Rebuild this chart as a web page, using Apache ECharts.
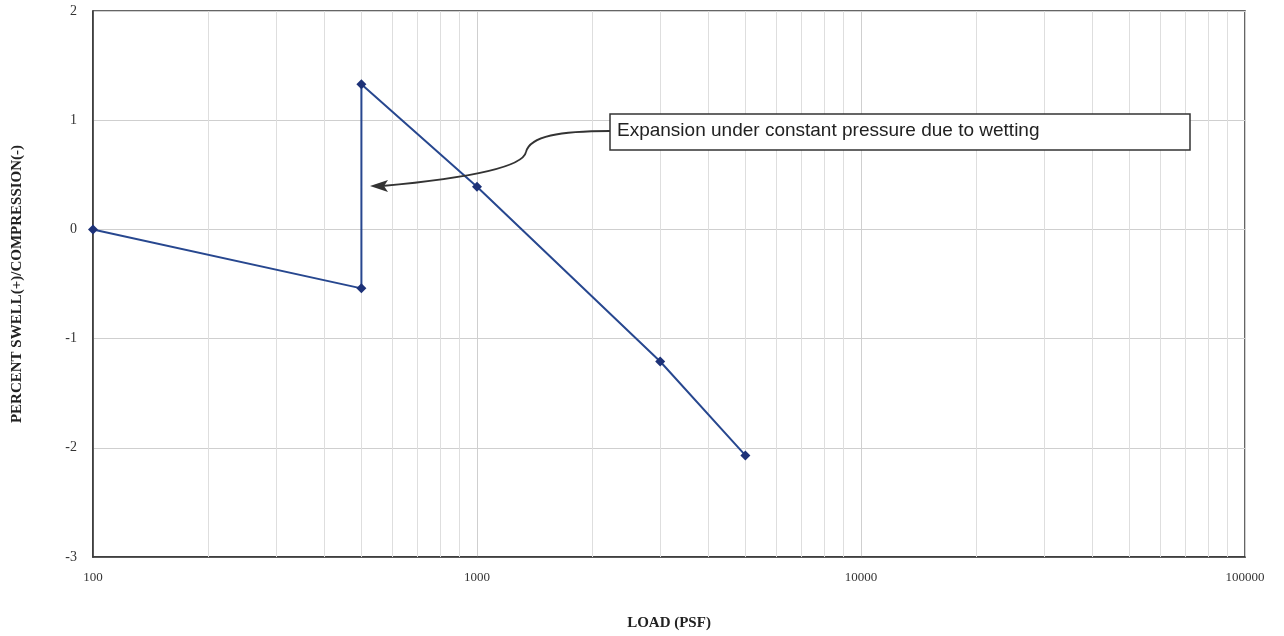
<!DOCTYPE html>
<html>
<head>
    <meta charset="utf-8">
    <title>Swell / Compression</title>
    <script src="https://cdn.jsdelivr.net/npm/echarts@6/dist/echarts.min.js"></script>
    <style>
        html, body { margin: 0; padding: 0; background: #fff; }
        #main { width: 1284px; height: 636px; }
    </style>
</head>
<body>
<div id="main"></div>
<script type="text/javascript">
    // load (psf) vs percent swell(+)/compression(-)
    var loads = [100, 500, 500, 1000, 3000, 5000];
    var swell = [0, -0.54, 1.33, 0.39, -1.21, -2.07];
    // intermediate log grid lines
    var minorLoads = [200, 300, 400, 500, 600, 700, 800, 900,
        2000, 3000, 4000, 5000, 6000, 7000, 8000, 9000,
        20000, 30000, 40000, 50000, 60000, 70000, 80000, 90000];
    var yTicks = [-3, -2, -1, 0, 1, 2];
    var noteText = 'Expansion under constant pressure due to wetting';

    var serif = '"Liberation Serif", "DejaVu Serif", serif';
    var chart = echarts.init(document.getElementById('main'));

    var option = {
        animation: false,
        backgroundColor: '#fff',
        grid: {
            left: 93, right: 39, top: 11, bottom: 79,
            outerBoundsMode: 'none',
            containLabel: false,
            show: true, borderColor: '#333', borderWidth: 1.5
        },
        xAxis: {
            type: 'log',
            logBase: 10,
            min: 100,
            max: 100000,
            name: 'LOAD (PSF)',
            nameLocation: 'middle',
            nameGap: 59,
            nameTextStyle: { fontFamily: serif, fontWeight: 'bold', fontSize: 15, color: '#222' },
            axisLine: { onZero: false, lineStyle: { color: '#333', width: 1.5 } },
            axisTick: { show: false },
            axisLabel: {
                fontFamily: serif, fontSize: 13, color: '#333', margin: 14,
                formatter: function (v) { return String(Math.round(v)); }
            },
            splitLine: { show: true, lineStyle: { color: '#cfcfcf', width: 1 } }
        },
        yAxis: {
            type: 'value',
            min: yTicks[0],
            max: yTicks[yTicks.length - 1],
            interval: 1,
            name: 'PERCENT SWELL(+)/COMPRESSION(-)',
            nameLocation: 'middle',
            nameGap: 68,
            nameTextStyle: { fontFamily: serif, fontWeight: 'bold', fontSize: 15, color: '#222' },
            axisLine: { show: true, onZero: false, lineStyle: { color: '#333', width: 1.5 } },
            axisTick: { show: false },
            axisLabel: { fontFamily: serif, fontSize: 14, color: '#333', margin: 16 },
            splitLine: { show: true, lineStyle: { color: '#cfcfcf', width: 1 } }
        },
        series: [{
            type: 'line',
            data: loads.map(function (x, i) { return [x, swell[i]]; }),
            symbol: 'diamond',
            symbolSize: 10,
            lineStyle: { color: '#27478f', width: 2 },
            itemStyle: { color: '#1d3278' },
            z: 5,
            markLine: {
                silent: true,
                symbol: 'none',
                label: { show: false },
                lineStyle: { color: '#dedede', width: 1, type: 'solid' },
                data: minorLoads.map(function (v) { return { xAxis: v }; }),
                z: 1
            }
        }],
        graphic: [
            {
                type: 'bezierCurve',
                shape: { x1: 610, y1: 131, cpx1: 560, cpy1: 131, cpx2: 530, cpy2: 136, x2: 526, y2: 152 },
                style: { fill: null, stroke: '#333', lineWidth: 1.8 },
                z: 10
            },
            {
                type: 'bezierCurve',
                shape: { x1: 526, y1: 152, cpx1: 523, cpy1: 167, cpx2: 470, cpy2: 178, x2: 382, y2: 186 },
                style: { fill: null, stroke: '#333', lineWidth: 1.8 },
                z: 10
            },
            {
                type: 'polygon',
                shape: { points: [[370, 186], [388, 180], [384, 186], [388, 192]] },
                style: { fill: '#333' },
                z: 10
            },
            {
                type: 'rect',
                shape: { x: 610, y: 114, width: 580, height: 36 },
                style: { fill: '#fff', stroke: '#333', lineWidth: 1.5 },
                z: 10
            },
            {
                type: 'text',
                left: 617,
                top: 121,
                style: {
                    text: noteText,
                    font: '19px "Liberation Sans", Arial, sans-serif',
                    fill: '#222'
                },
                z: 11
            }
        ]
    };

    chart.setOption(option);
</script>
</body>
</html>
